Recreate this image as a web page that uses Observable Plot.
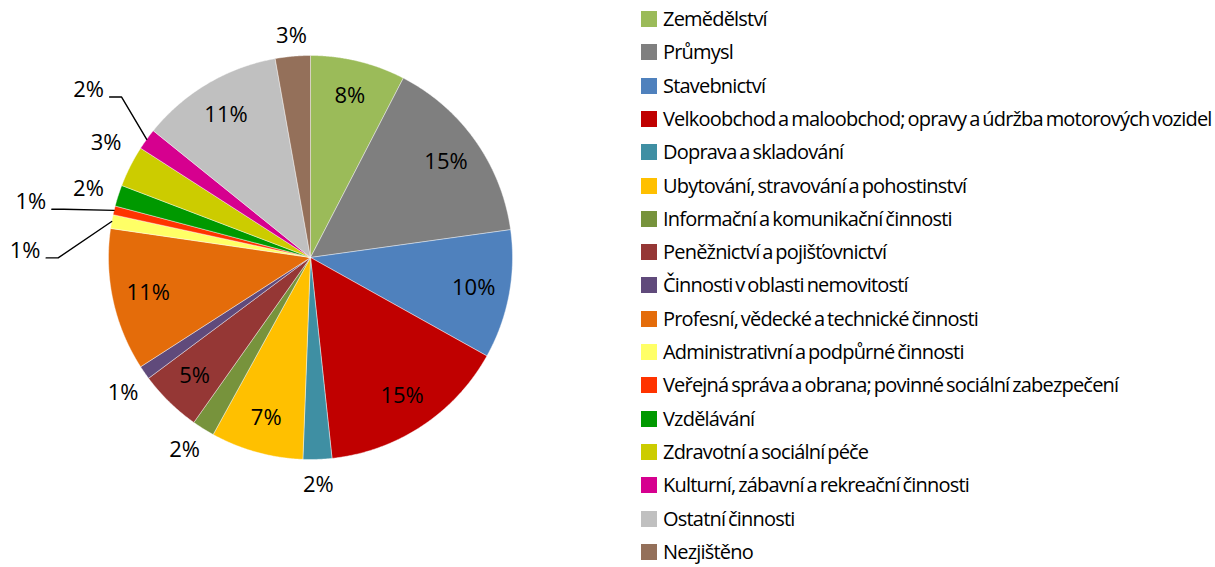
<!DOCTYPE html>
<html><head><meta charset="utf-8">
<script src="https://cdn.jsdelivr.net/npm/d3@7"></script>
<script src="https://cdn.jsdelivr.net/npm/@observablehq/plot@0.6"></script>
<style>
body{margin:0;background:#fff;width:1215px;height:567px;overflow:hidden;position:relative;font-family:"Open Sans",sans-serif}
#chart{position:absolute;left:0;top:0}
#legend{position:absolute;left:641px;top:0}
.row{position:absolute;left:0;height:34px;display:flex;align-items:center;white-space:nowrap}
.sw{width:16px;height:16px;margin-right:6px;flex:none}
.lb{font-size:20px;letter-spacing:-0.8px;word-spacing:-1.6px;color:#000;line-height:34px}
</style></head><body>
<div id="chart"></div><div id="legend"></div>
<script>
const categories = [
  "Zemědělství",
  "Průmysl",
  "Stavebnictví",
  "Velkoobchod a maloobchod; opravy a údržba motorových vozidel",
  "Doprava a skladování",
  "Ubytování, stravování a pohostinství",
  "Informační a komunikační činnosti",
  "Peněžnictví a pojišťovnictví",
  "Činnosti v oblasti nemovitostí",
  "Profesní, vědecké a technické činnosti",
  "Administrativní a podpůrné činnosti",
  "Veřejná správa a obrana; povinné sociální zabezpečení",
  "Vzdělávání",
  "Zdravotní a sociální péče",
  "Kulturní, zábavní a rekreační činnosti",
  "Ostatní činnosti",
  "Nezjištěno"
];
const values = [7.6, 15.2, 10.3, 15.2, 2.3, 7.4, 1.8, 5.0, 1.1, 11.4, 1.1, 0.7, 1.7, 3.3, 1.7, 11.4, 2.8];
const colors = ["#9BBB59","#7F7F7F","#4F81BD","#C00000","#3F8FA3","#FFC000","#77933C","#953735","#604A7B","#E46C0A","#FFFF66","#FF3300","#009900","#CCCC00","#D6008F","#C0C0C0","#94705A"];

// layout (pixels)
const W = 630, H = 567, CX = 310, CY = 257, R = 202;
const inR = 166 / R, outR = 228 / R;
// label nudges in px for outside labels, and which ones get leader lines
const nudge = {
  "Informační a komunikační činnosti": [-5, -1],
  "Činnosti v oblasti nemovitostí": [0, 6],
  "Zdravotní a sociální péče": [-1, -12],
  "Vzdělávání": [-5, 1],
  "Nezjištěno": [1, 6],
  "Kulturní, zábavní a rekreační činnosti": [-37, -34],
  "Veřejná správa a obrana; povinné sociální zabezpečení": [-58, -2],
  "Administrativní a podpůrné činnosti": [-61, 34]
};
const leader = new Set([
  "Kulturní, zábavní a rekreační činnosti",
  "Veřejná správa a obrana; povinné sociální zabezpečení",
  "Administrativní a podpůrné činnosti"
]);

const total = d3.sum(values);
const slices = [], labels = [], leaders = [];
let acc = 0;
categories.forEach((cat, i) => {
  const a0 = acc / total * 2 * Math.PI;
  acc += values[i];
  const a1 = acc / total * 2 * Math.PI;
  slices.push({cat, x: 0, y: 0});
  const n = Math.max(2, Math.ceil((a1 - a0) / 0.005));
  for (let k = 0; k <= n; k++) {
    const a = a0 + (a1 - a0) * k / n;
    slices.push({cat, x: Math.sin(a), y: Math.cos(a)});
  }
  slices.push({cat, x: 0, y: 0});
  const am = (a0 + a1) / 2;
  const inside = values[i] >= 5;
  const r = inside ? inR : outR;
  const [dx, dy] = nudge[cat] || [0, 0];
  const lx = Math.sin(am) * r + dx / R, ly = Math.cos(am) * r - dy / R;
  const text = Math.round(values[i] / total * 100) + "%";
  labels.push({cat, x: lx, y: ly, text});
  if (leader.has(cat)) {
    const ex = lx + 21 / R, ey = ly - 7 / R;
    leaders.push({cat, x: ex, y: ey});
    leaders.push({cat, x: ex + 12 / R, y: ey});
    leaders.push({cat, x: Math.sin(am), y: Math.cos(am)});
  }
});

const chart = Plot.plot({
  width: W, height: H,
  margin: 0,
  x: {domain: [-CX / R, (W - CX) / R], axis: null},
  y: {domain: [-(H - CY) / R, CY / R], axis: null},
  color: {domain: categories, range: colors},
  marks: [
    Plot.line(slices, {x: "x", y: "y", z: "cat", fill: "cat", stroke: "white", strokeWidth: 0.6, strokeOpacity: 0.7, curve: "linear"}),
    Plot.line(leaders, {x: "x", y: "y", z: "cat", stroke: "black", strokeWidth: 1.4}),
    Plot.text(labels, {x: "x", y: "y", text: "text", fontSize: 22, fontFamily: "Open Sans", fill: "black"})
  ]
});
document.getElementById("chart").appendChild(chart);

const legend = document.getElementById("legend");
categories.forEach((cat, i) => {
  const row = document.createElement("div");
  row.className = "row";
  row.style.top = (2 + i * 33.3) + "px";
  const sw = document.createElement("div");
  sw.className = "sw";
  sw.style.background = colors[i];
  const lb = document.createElement("span");
  lb.className = "lb";
  lb.textContent = cat;
  row.appendChild(sw); row.appendChild(lb);
  legend.appendChild(row);
});
</script>
</body></html>
